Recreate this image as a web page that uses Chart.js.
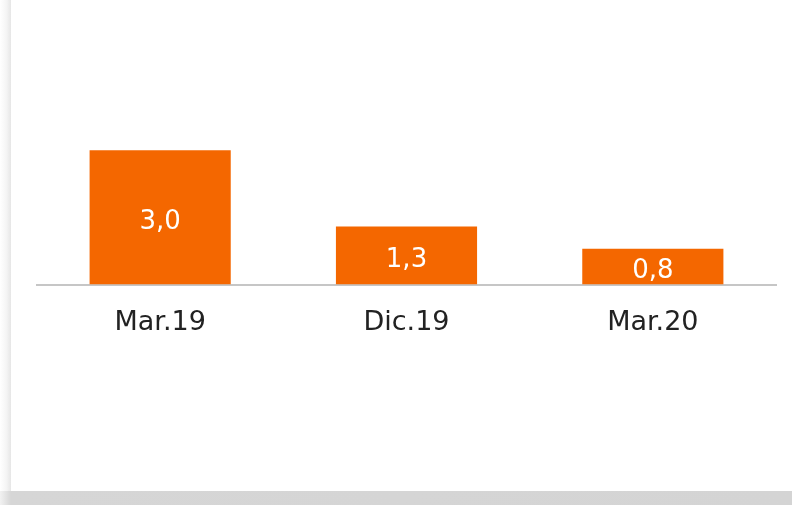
<!DOCTYPE html>
<html>
<head>
<meta charset="utf-8">
<script src="https://cdn.jsdelivr.net/npm/chart.js@4"></script>
<style>
  html, body { margin: 0; padding: 0; background: #fff; }
  body { width: 792px; height: 505px; position: relative; overflow: hidden; font-family: "DejaVu Sans", sans-serif; }
  .shadowL { position: absolute; left: 0; top: 0; width: 11px; height: 505px; background: linear-gradient(to right, #fff 0%, #f4f4f4 60%, #e6e6e6 100%); }
  .shadowB { position: absolute; left: 0; top: 491px; width: 792px; height: 14px; background: linear-gradient(to right, #f2f2f2 0px, #d6d6d6 11px, #d4d4d4 100%); }
  .card { position: absolute; left: 11px; top: 0; width: 781px; height: 491px; background: #fff; }
</style>
</head>
<body>
<div class="shadowL"></div>
<div class="shadowB"></div>
<div class="card"><canvas id="chart"></canvas></div>
<script>
// dati
const categorie = ["Mar.19", "Dic.19", "Mar.20"];
const valori = [3.0, 1.3, 0.8];
const etichette = ["3,0", "1,3", "0,8"];

const arancio = "#F46700";

// etichette bianche dentro le barre
const labelPlugin = {
  id: "barLabels",
  afterDatasetsDraw(chart) {
    const ctx = chart.ctx;
    const meta = chart.getDatasetMeta(0);
    ctx.save();
    ctx.fillStyle = "#ffffff";
    ctx.font = "26px 'DejaVu Sans'";
    ctx.textAlign = "center";
    ctx.textBaseline = "middle";
    meta.data.forEach((bar, i) => {
      const mid = (bar.y + bar.base) / 2;
      ctx.fillText(etichette[i], bar.x, mid + 5);
    });
    ctx.restore();
  }
};

new Chart(document.getElementById("chart").getContext("2d"), {
  type: "bar",
  data: {
    labels: categorie,
    datasets: [{ data: valori, backgroundColor: arancio, borderWidth: 0, barPercentage: 0.573, categoryPercentage: 1 }]
  },
  options: {
    responsive: true, maintainAspectRatio: false, animation: false,
    layout: { padding: { left: 26, right: 16, top: 16, bottom: 130 } },
    plugins: { legend: { display: false }, tooltip: { enabled: false } },
    scales: {
      x: {
        grid: { display: false, drawTicks: false },
        border: { display: true, color: "#c6c6c6", width: 2 },
        ticks: { color: "#222222", font: { family: "DejaVu Sans", size: 27 }, padding: 22 }
      },
      y: { display: false, min: 0, max: 6 }
    }
  },
  plugins: [labelPlugin]
});
</script>
</body>
</html>
